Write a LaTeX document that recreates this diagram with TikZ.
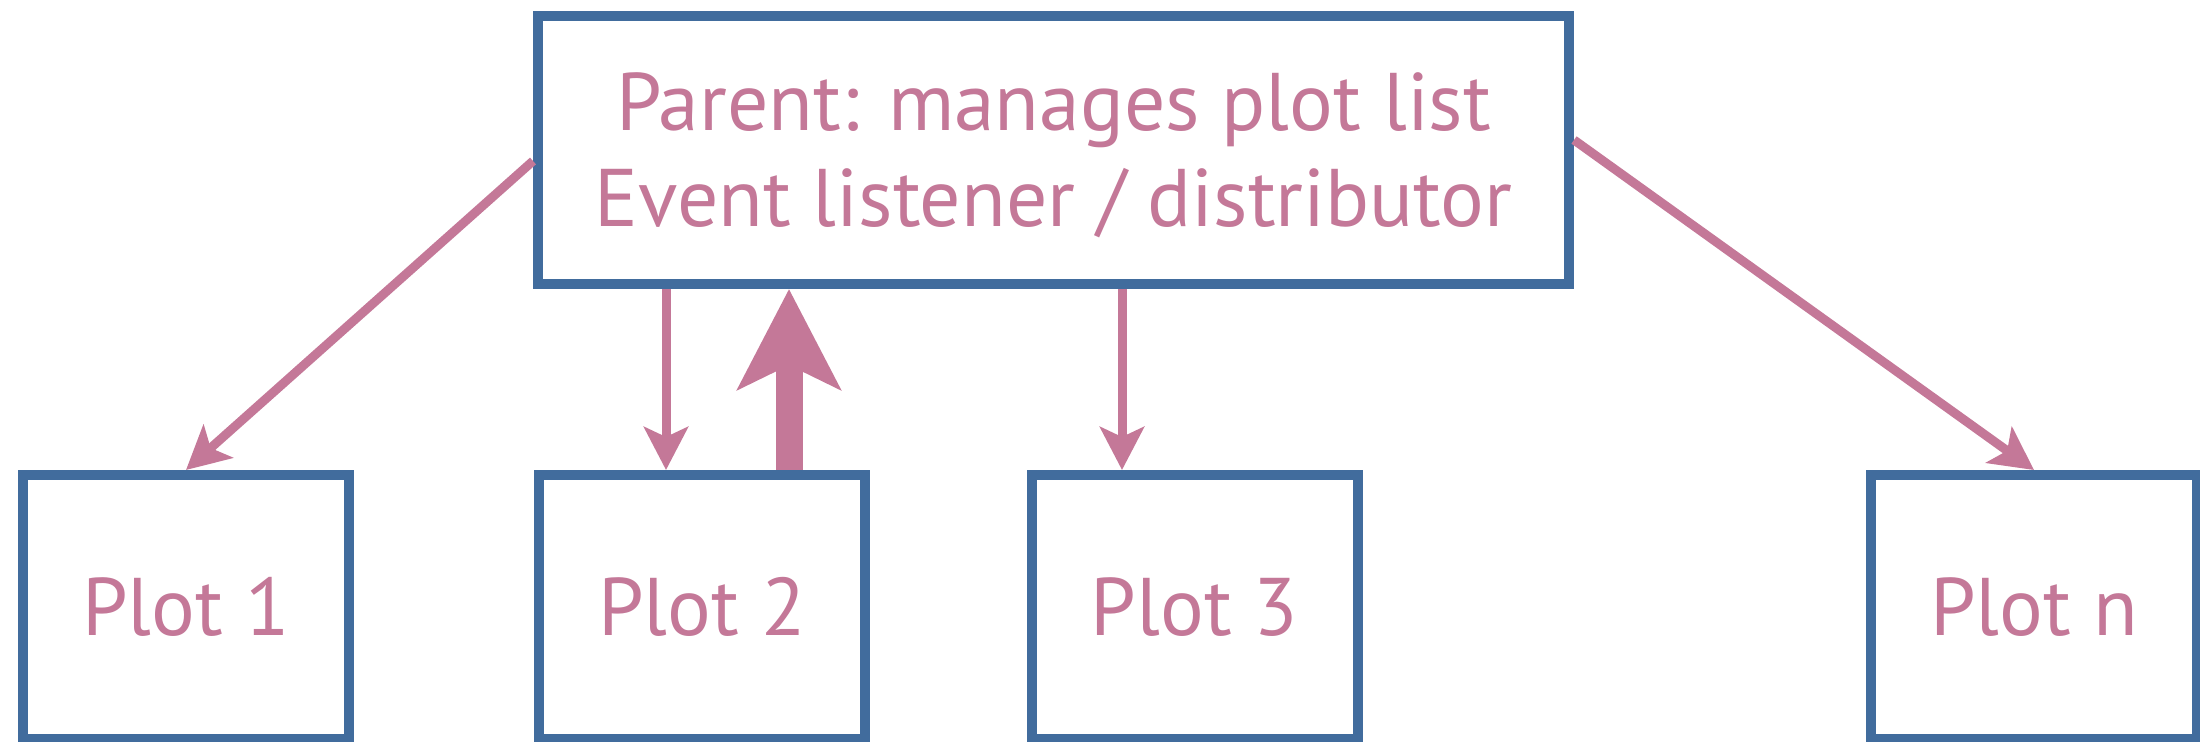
\documentclass[tikz,border=0pt]{standalone}
\usepackage{fontspec}
\setmainfont{PT Sans}
\usepackage{tikz}
\usetikzlibrary{arrows.meta}
\definecolor{boxblue}{RGB}{65,108,157}
\definecolor{linkpink}{RGB}{196,120,152}

\begin{document}
\begin{tikzpicture}[
  box/.style={draw=boxblue,line width=0.2cm,fill=white,
              text=linkpink,font=\fontsize{46.5}{54.6}\selectfont,align=center},
  plotbox/.style={box,minimum width=6.52cm,minimum height=5.28cm},
  link/.style={draw=linkpink,line width=0.18cm,
               -{Stealth[length=0.86cm,width=0.88cm,inset=0.2cm]}},
  back/.style={draw=linkpink,line width=0.54cm,
               -{Stealth[length=2cm,width=2.04cm,inset=0.48cm]}}]
\useasboundingbox (0,0) rectangle (44,14.84);

% ------------- parent -------------
\node[box,minimum width=20.62cm,minimum height=5.36cm,text depth=0pt] (parent)
  at (21.07,11.84)
  {Parent: manages plot list\\Event listener / distributor};

% ------------- plots -------------
\node[plotbox] (plot1) at (3.72,2.70) {Plot 1};
\node[plotbox] (plot2) at (14.04,2.70) {Plot 2};
\node[plotbox] (plot3) at (23.89,2.70) {Plot 3};
\node[plotbox] (plotn) at (40.68,2.70) {Plot n};

% ------------- links -------------
\draw[link] ([yshift=-0.22cm]parent.west) -- (plot1.north);
\draw[link] ([xshift=-0.72cm]plot2.north |- parent.south) -- ([xshift=-0.72cm]plot2.north);
\draw[back] ([xshift=1.74cm]plot2.north) -- ([xshift=1.74cm]plot2.north |- parent.south);
\draw[link] ([xshift=-1.45cm]plot3.north |- parent.south) -- ([xshift=-1.45cm]plot3.north);
\draw[link] ([yshift=0.2cm]parent.east) -- (plotn.north);

\end{tikzpicture}
\end{document}
